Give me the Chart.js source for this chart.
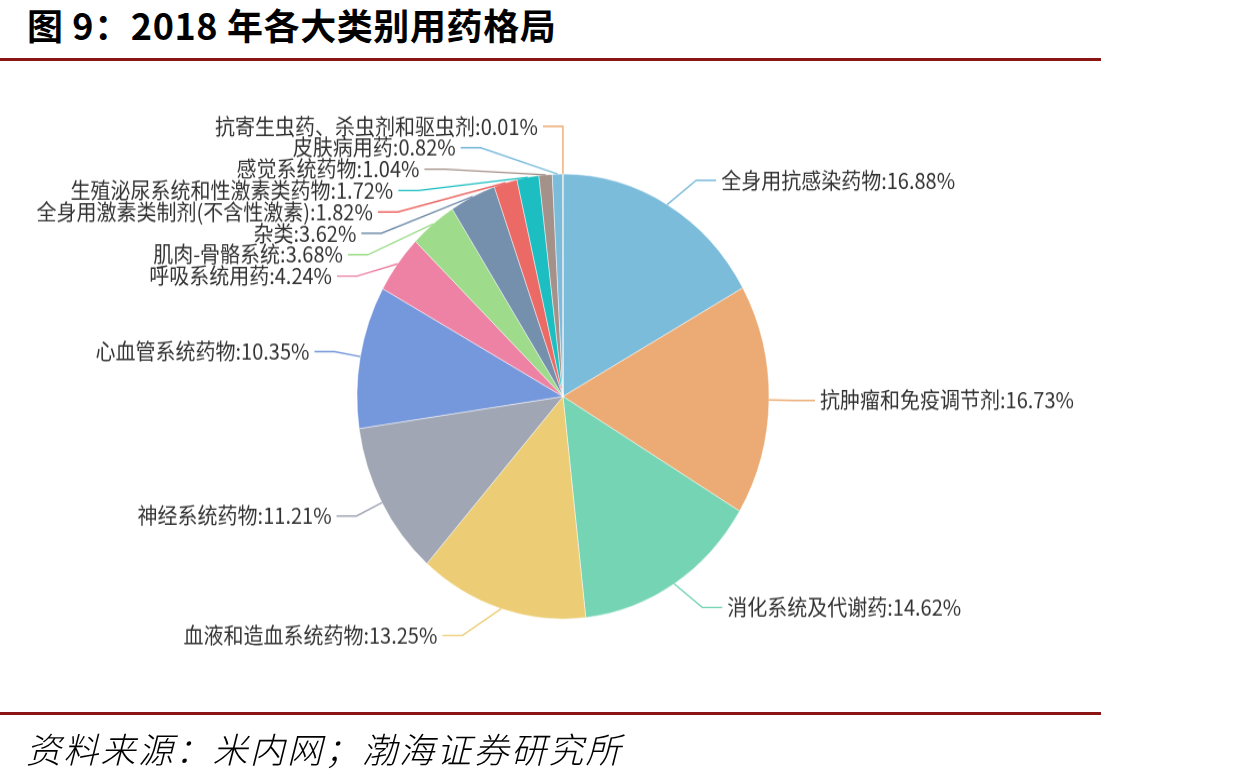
<!DOCTYPE html>
<html>
<head>
<meta charset="utf-8">
<script src="https://cdn.jsdelivr.net/npm/chart.js@4.4.1/dist/chart.umd.min.js"></script>
<style>
  html, body { margin: 0; padding: 0; background: #fff; }
  body {
    width: 1259px; height: 781px; position: relative; overflow: hidden;
    font-family: "Noto Sans CJK SC", "Noto Sans", sans-serif;
  }
  #title {
    position: absolute; left: 27px; top: -2px;
    font-size: 36px; font-weight: bold; color: #000; white-space: nowrap;
    letter-spacing: 0.6px;
  }
  .rule { position: absolute; left: 0; width: 1101px; height: 3px; background: #8b1414; }
  #rule-top { top: 58px; }
  #rule-bottom { top: 712px; }
  #chart-wrap {
    position: absolute; left: 0; top: 0; width: 1259px; height: 723px;
    transform: scaleY(1.0801); transform-origin: 0 0;
  }
  #source {
    position: absolute; left: 26px; top: 722px;
    font-size: 35px; font-style: italic; font-weight: 300; color: #000; white-space: nowrap;
    letter-spacing: 2.3px;
  }
</style>
</head>
<body>
<div id="title">图 9：2018 年各大类别用药格局</div>
<div class="rule" id="rule-top"></div>
<div id="chart-wrap"><canvas id="pieChart"></canvas></div>
<div class="rule" id="rule-bottom"></div>
<div id="source">资料来源：米内网；渤海证券研究所</div>

<script>
// ==========================================
// Data (share of 2018 drug sales, %)
// ==========================================
const categories = [
  '全身用抗感染药物',
  '抗肿瘤和免疫调节剂',
  '消化系统及代谢药',
  '血液和造血系统药物',
  '神经系统药物',
  '心血管系统药物',
  '呼吸系统用药',
  '肌肉-骨骼系统',
  '杂类',
  '全身用激素类制剂(不含性激素)',
  '生殖泌尿系统和性激素类药物',
  '感觉系统药物',
  '皮肤病用药',
  '抗寄生虫药、杀虫剂和驱虫剂'
];
const shares = [16.88, 16.73, 14.62, 13.25, 11.21, 10.35, 4.24, 3.68, 3.62, 1.82, 1.72, 1.04, 0.82, 0.01];

// palette cycles after 12 colours, like the source chart
const palette = [
  '#7cbcdb', '#ecab74', '#75d4b4', '#eccd75', '#a0a6b3', '#7597db',
  '#ed82a4', '#9edc8b', '#7590ad', '#ec6a66', '#1cbec1', '#a4918a'
];

// ==========================================
// Label layout settings
// ==========================================
const LINE_LEN = 26;     // first leader segment
const LINE_LEN2 = 20;    // horizontal segment
const TEXT_GAP = 5;
const LABEL_GAP = 19.8;  // min vertical distance between labels
const LABEL_TOP = 117;
const LABEL_BOTTOM = 705;

// push overlapping labels apart, keep order, clamp to bounds
function spread(list) {
  list.sort((a, b) => a.y0 - b.y0);
  const blocks = list.map(it => ({ items: [it], sum: it.y0 }));
  const top = (b) => {
    const n = b.items.length;
    let t = b.sum / n - (n - 1) * LABEL_GAP / 2;
    t = Math.min(t, LABEL_BOTTOM - (n - 1) * LABEL_GAP);
    return Math.max(t, LABEL_TOP);
  };
  let merged = true;
  while (merged) {
    merged = false;
    for (let k = 1; k < blocks.length; k++) {
      const prev = blocks[k - 1], cur = blocks[k];
      if (top(prev) + prev.items.length * LABEL_GAP > top(cur) + 0.01) {
        prev.items = prev.items.concat(cur.items);
        prev.sum += cur.sum;
        blocks.splice(k, 1);
        merged = true;
        break;
      }
    }
  }
  blocks.forEach(b => {
    const t = top(b);
    b.items.forEach((it, j) => { it.y = t + j * LABEL_GAP; });
  });
}

const leaderLabels = {
  id: 'leaderLabels',
  afterDatasetsDraw(chart) {
    const ctx = chart.ctx;
    const meta = chart.getDatasetMeta(0);
    const items = meta.data.map((arc, i) => {
      const p = arc.getProps(['x', 'y', 'startAngle', 'endAngle', 'outerRadius'], true);
      const a = (p.startAngle + p.endAngle) / 2;
      const dir = Math.cos(a) >= 0 ? 1 : -1;
      const r = p.outerRadius;
      return {
        i, dir, cx: p.x, cy: p.y, r,
        sx: p.x + r * Math.cos(a),
        sy: p.y + r * Math.sin(a),
        x0: p.x + (r + LINE_LEN) * Math.cos(a) + dir * LINE_LEN2,
        y0: p.y + (r + LINE_LEN) * Math.sin(a)
      };
    });

    spread(items.filter(it => it.dir > 0));
    spread(items.filter(it => it.dir < 0));

    ctx.save();
    ctx.font = '20px "Noto Sans CJK SC", sans-serif';
    ctx.textBaseline = 'middle';
    items.forEach(it => {
      const R = it.r + LINE_LEN + LINE_LEN2;
      const dy = Math.abs(it.y - it.cy);
      const dx = dy < it.r + LINE_LEN ? Math.sqrt(R * R - dy * dy) : Math.abs(it.x0 - it.cx);
      const ex = it.cx + it.dir * dx;
      const kx = ex - it.dir * LINE_LEN2;

      ctx.strokeStyle = palette[it.i % palette.length];
      ctx.lineWidth = 1.4;
      ctx.beginPath();
      ctx.moveTo(it.sx, it.sy);
      ctx.lineTo(kx, it.y);
      ctx.lineTo(ex, it.y);
      ctx.stroke();

      ctx.fillStyle = '#333';
      ctx.textAlign = it.dir > 0 ? 'left' : 'right';
      ctx.fillText(`${categories[it.i]}:${shares[it.i].toFixed(2)}%`, ex + it.dir * TEXT_GAP, it.y);
    });
    ctx.restore();
  }
};

// ==========================================
// Chart
// ==========================================
new Chart(document.getElementById('pieChart'), {
  type: 'pie',
  data: {
    labels: categories,
    datasets: [{
      data: shares,
      backgroundColor: shares.map((_, i) => palette[i % palette.length]),
      borderColor: 'rgba(255,255,255,0.45)',
      borderWidth: 1
    }]
  },
  options: {
    responsive: true,
    maintainAspectRatio: false,
    animation: false,
    radius: 206,
    layout: { padding: { left: 0, right: 133, top: 11.2, bottom: 0 } },
    plugins: {
      legend: { display: false },
      tooltip: { enabled: false }
    },
    events: []
  },
  plugins: [leaderLabels]
});
</script>
</body>
</html>
